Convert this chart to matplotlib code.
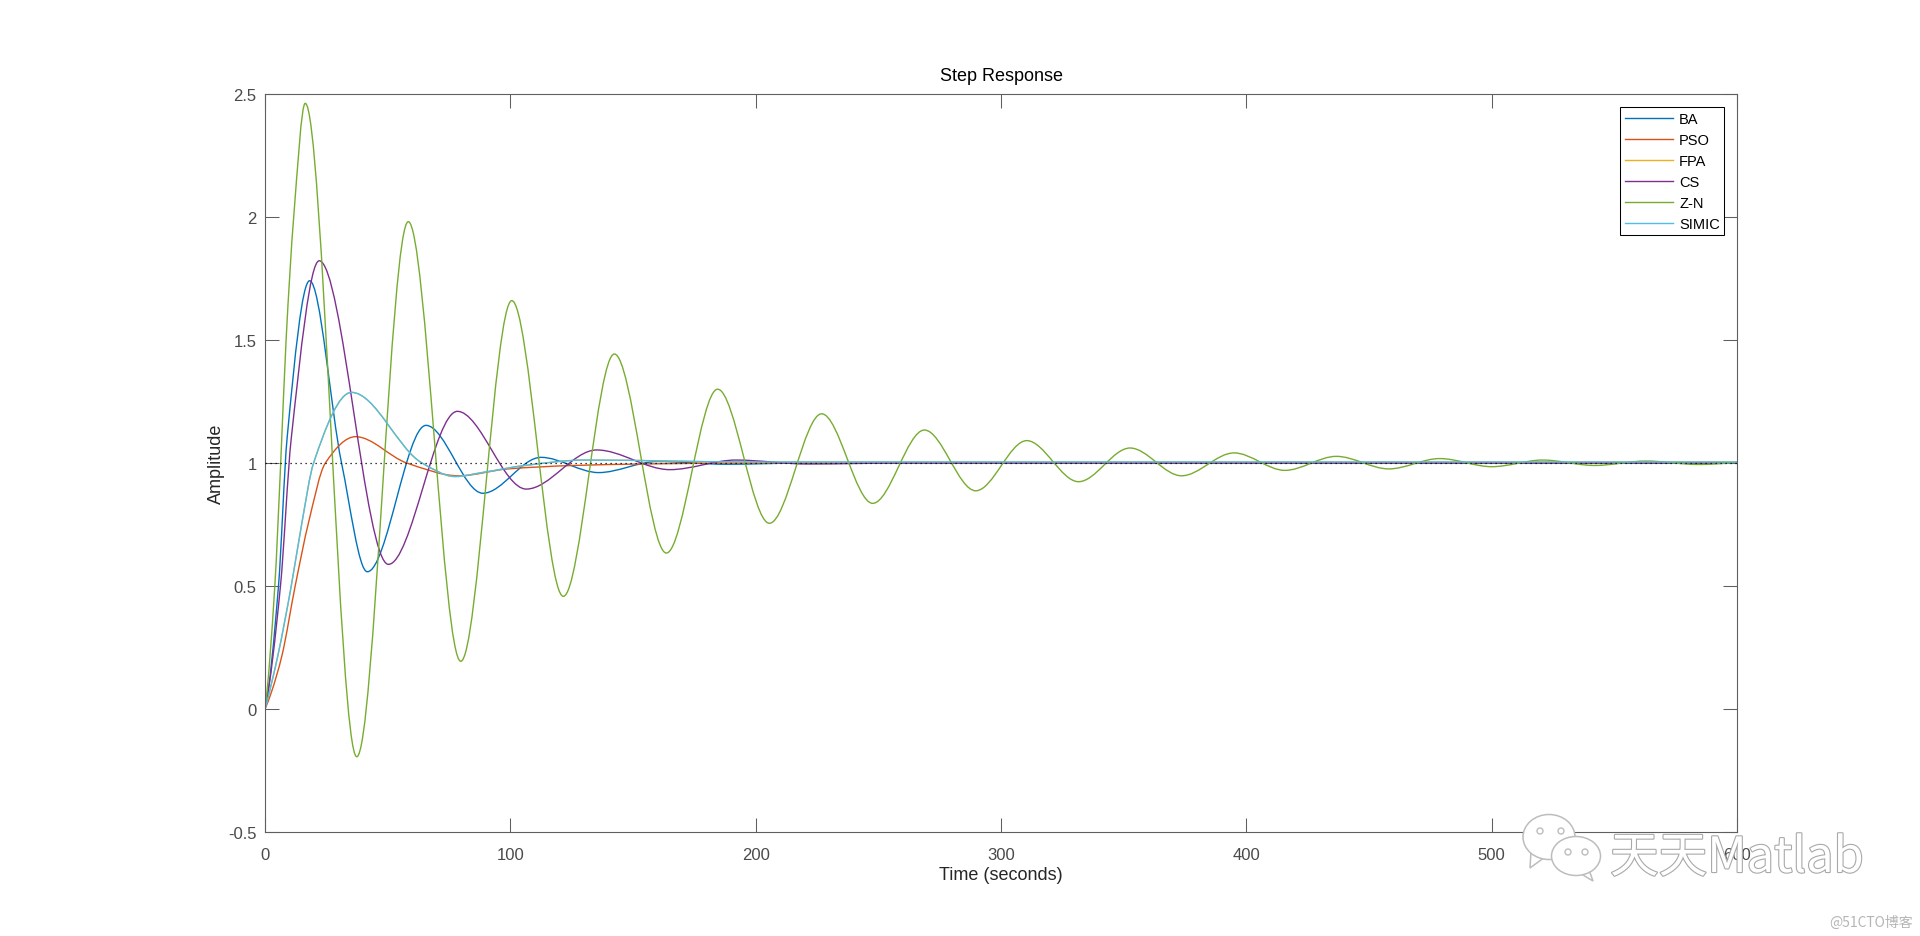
import numpy as np
import matplotlib
matplotlib.use("Agg")
import matplotlib.pyplot as plt
from matplotlib.path import Path
from matplotlib.patches import PathPatch, Ellipse, Polygon
from matplotlib.lines import Line2D
import matplotlib.patheffects as pe

# ---------------- data ----------------
series_names = ["BA", "PSO", "FPA", "CS", "Z-N", "SIMIC"]

ba_t = [0, 5.5, 9.0, 18.2, 31.2, 41.7, 65.6, 88.8, 112.5, 136.0, 160.0, 188.0, 220.0, 600.0]
ba_y = [0, 0.50, 1.10, 1.741, 1.00, 0.558, 1.153, 0.877, 1.023, 0.961, 1.006, 0.995, 1.0, 1.0]

pso_t = [0, 2.6, 6.9, 12.3, 17.8, 24.6, 36.9, 57.8, 79.0, 99.0, 126.0, 154.0, 200.0, 600.0]
pso_y = [0, 0.068, 0.217, 0.50, 0.76, 1.00, 1.107, 1.0, 0.948, 0.976, 0.990, 0.996, 1.0, 1.0]

# FPA is completely hidden beneath SIMIC in the reference
fpa_t = [0, 5.3, 10.7, 15.1, 19.8, 35.3, 64.0, 77.5, 89.0, 106.0, 130.0, 200.0, 600.0]
fpa_y = [0, 0.22, 0.50, 0.76, 1.00, 1.287, 1.0, 0.945, 0.962, 0.99, 1.012, 1.004, 1.004]

cs_t = [0, 6.3, 10.7, 22.1, 50.3, 78.4, 106.5, 135.2, 165.0, 192.0, 221.0, 260.0, 600.0]
cs_y = [0, 0.50, 1.10, 1.822, 0.588, 1.210, 0.894, 1.053, 0.973, 1.012, 0.996, 1.0, 1.0]

zn_t = [0, 4.0, 6.4, 8.6, 11.7, 16.4, 37.4, 58.4, 79.8, 100.6, 121.6, 142.4, 163.6, 184.5,
        205.6, 226.9, 247.7, 268.8, 289.7, 310.5, 331.6, 352.6, 373.6, 395.0, 415.7, 436.7,
        458.1, 478.8, 500.1, 520.8, 542.0, 563.0, 584.0, 600.0]
zn_y = [0, 0.50, 1.00, 1.50, 2.00, 2.462, -0.194, 1.981, 0.194, 1.660, 0.458, 1.443, 0.634, 1.300,
        0.755, 1.200, 0.836, 1.134, 0.887, 1.091, 0.924, 1.061, 0.948, 1.041, 0.970, 1.027,
        0.976, 1.018, 0.985, 1.012, 0.990, 1.008, 0.994, 1.003]

simic_t = [0, 5.3, 10.7, 15.1, 19.8, 35.3, 64.0, 77.5, 89.0, 106.0, 130.0, 200.0, 600.0]
simic_y = [0, 0.22, 0.50, 0.76, 1.00, 1.287, 1.0, 0.945, 0.962, 0.99, 1.012, 1.004, 1.004]

steady_value = 1.0
xticks = [0, 100, 200, 300, 400, 500, 600]
xtick_labels = ["0", "100", "200", "300", "400", "500", "600"]
yticks = [-0.5, 0, 0.5, 1, 1.5, 2, 2.5]
ytick_labels = ["-0.5", "0", "0.5", "1", "1.5", "2", "2.5"]

colors = ["#0072BD", "#D95319", "#EDB120", "#7E2F8E", "#77AC30", "#4DBEEE"]

# ---------------- helpers ----------------
def smooth_path(ts, vs):
    """Monotone cubic (PCHIP) Bezier path through the read points."""
    x = np.asarray(ts, float)
    y = np.asarray(vs, float)
    h = np.diff(x)
    d = np.diff(y) / h
    n = len(x)
    m = np.zeros(n)
    for k in range(1, n - 1):
        if d[k - 1] * d[k] > 0:
            w1 = 2 * h[k] + h[k - 1]
            w2 = h[k] + 2 * h[k - 1]
            m[k] = (w1 + w2) / (w1 / d[k - 1] + w2 / d[k])

    def end(h0, h1, d0, d1):
        mm = ((2 * h0 + h1) * d0 - h0 * d1) / (h0 + h1)
        if np.sign(mm) != np.sign(d0):
            mm = 0.0
        elif np.sign(d0) != np.sign(d1) and abs(mm) > abs(3 * d0):
            mm = 3 * d0
        return mm

    m[0] = end(h[0], h[1], d[0], d[1])
    m[-1] = end(h[-1], h[-2], d[-1], d[-2])
    verts = [(x[0], y[0])]
    codes = [Path.MOVETO]
    for k in range(n - 1):
        verts += [(x[k] + h[k] / 3, y[k] + m[k] * h[k] / 3),
                  (x[k + 1] - h[k] / 3, y[k + 1] - m[k + 1] * h[k] / 3),
                  (x[k + 1], y[k + 1])]
        codes += [Path.CURVE4] * 3
    return Path(verts, codes)


plt.rcParams["font.family"] = ["Liberation Sans", "DejaVu Sans"]
plt.rcParams["axes.unicode_minus"] = False

W, H = 1920, 937
fig = plt.figure(figsize=(W / 100, H / 100), dpi=100)
fig.patch.set_facecolor("white")

def fx(px):
    return px / W

def fy(py):
    return 1 - py / H

ax = fig.add_axes([fx(265), fy(833), (1737 - 265) / W, (833 - 95) / H])

all_t = [ba_t, pso_t, fpa_t, cs_t, zn_t, simic_t]
all_y = [ba_y, pso_y, fpa_y, cs_y, zn_y, simic_y]
for i, (tt, yy) in enumerate(zip(all_t, all_y)):
    patch = PathPatch(smooth_path(tt, yy), facecolor="none", edgecolor=colors[i],
                      lw=1.0, zorder=2 + i * 0.01)
    ax.add_patch(patch)

ax.axhline(steady_value, color="black", lw=0.9, ls=(0, (1, 3)), zorder=3)

ax.set_xlim(0, 600)
ax.set_ylim(-0.5, 2.5)
ax.set_xticks(xticks)
ax.set_xticklabels(xtick_labels)
ax.set_yticks(yticks)
ax.set_yticklabels(ytick_labels)

spine_c = "#5f5f5f"
for s in ax.spines.values():
    s.set_color(spine_c)
    s.set_linewidth(0.8)
ax.tick_params(direction="in", length=10, width=0.75, color=spine_c,
               labelcolor="#4a4a4a", labelsize=12, top=True, right=True, pad=6)
ax.tick_params(axis="x", pad=10.5)

ax.set_title("Step Response", fontsize=13, color="black", pad=10)
ax.set_xlabel("Time (seconds)", fontsize=13, color="#262626", labelpad=3)
ax.set_ylabel("Amplitude", fontsize=13, color="#262626", labelpad=2.5)

handles = [Line2D([], [], color=c, lw=1.0) for c in colors]
leg = ax.legend(handles, series_names, loc="upper right",
                bbox_to_anchor=(0.9914, 0.982), borderaxespad=0,
                fancybox=False, edgecolor="black", framealpha=1,
                fontsize=10.5, handlelength=3.33, handletextpad=0.41,
                labelspacing=0.48, borderpad=0.3)
leg.get_frame().set_linewidth(0.75)

# ---------------- watermark ----------------
wm_edge = "#bdbdbd"
def bubble(cx, cy, w, h, eyes, tail):
    fig.add_artist(Polygon([(fx(px), fy(py)) for px, py in tail], closed=True,
                           facecolor="white", edgecolor=wm_edge, lw=1.1,
                           transform=fig.transFigure, zorder=20))
    fig.add_artist(Ellipse((fx(cx), fy(cy)), w / W, h / H, facecolor="white",
                           edgecolor=wm_edge, lw=1.1, transform=fig.transFigure, zorder=20))
    for ex, ey in eyes:
        fig.add_artist(Ellipse((fx(ex), fy(ey)), 6 / W, 6 / H, facecolor="white",
                               edgecolor=wm_edge, lw=1.0, transform=fig.transFigure, zorder=21))

bubble(1549, 838, 52, 45, [(1540, 832), (1561, 832)],
       [(1531, 852), (1530, 869), (1545, 858)])
bubble(1576, 857, 49, 39, [(1568, 853), (1585, 853)],
       [(1588, 868), (1593, 882), (1578, 873)])

fig.text(fx(1610), fy(873), "天天Matlab", fontsize=35,
         family=["Noto Sans CJK SC", "DejaVu Sans"], color="white",
         ha="left", va="baseline", zorder=22,
         path_effects=[pe.withStroke(linewidth=1.6, foreground="#a9a9a9")])
fig.text(fx(1829), fy(923), "@51CTO博客", fontsize=10,
         family=["Noto Sans CJK SC", "DejaVu Sans"], color="#b5b5b5",
         ha="left", va="center", zorder=22)

fig.savefig("out.png", dpi=100, facecolor="white")
